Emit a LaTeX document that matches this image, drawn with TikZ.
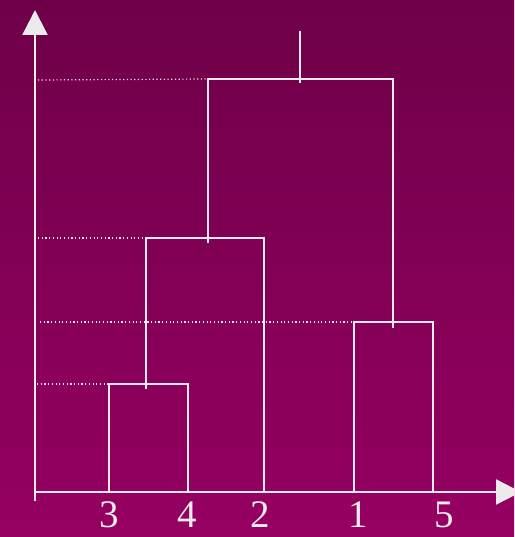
\documentclass[tikz,border=0pt]{standalone}
\usepackage{fontspec}
\setmainfont{Liberation Serif}
\usetikzlibrary{arrows.meta}
\definecolor{bgtop}{RGB}{110,0,72}
\definecolor{bgbot}{RGB}{150,0,98}
\definecolor{ink}{RGB}{235,235,235}
\begin{document}
\begin{tikzpicture}[x=1pt,y=-1pt,
  tree/.style={draw=ink,line width=2pt},
  guide/.style={draw=ink,line width=1.2pt,dash pattern=on 1.2pt off 2.5pt},
  axis/.style={draw=ink,line width=2.4pt,-{Triangle[width=25pt,length=25pt]}},
  lbl/.style={text=ink,font=\fontsize{39}{39}\selectfont,anchor=base,inner sep=0pt}]
\path[clip] (0,0) rectangle (514,537);
\shade[top color=bgtop,bottom color=bgbot] (0,0) rectangle (514,537);
\useasboundingbox (0,0) rectangle (514,537);
% axes
\coordinate (o) at (35,501);
\coordinate (ytip) at (35,10);
\coordinate (xo) at (35,492);
\coordinate (xtip) at (521,492);
\draw[axis] (o) -- (ytip);
\draw[axis] (xo) -- (xtip);
% leaves
\coordinate (l3) at (109,492);
\coordinate (l4) at (188,492);
\coordinate (l2) at (264,492);
\coordinate (l1) at (354,492);
\coordinate (l5) at (433,492);
% merges
\coordinate (m34a) at (109,384);
\coordinate (m34b) at (188,384);
\coordinate (m34s) at (146,389);
\coordinate (m342a) at (146,238);
\coordinate (m342b) at (264,238);
\coordinate (m342s) at (208,243);
\coordinate (m15a) at (354,322);
\coordinate (m15b) at (433,322);
\coordinate (m15s) at (393,328);
\coordinate (topa) at (208,79);
\coordinate (topb) at (393,79);
\coordinate (tops) at (300,83);
\coordinate (root) at (300,31);
\draw[tree] (l3) -- (m34a) -- (m34b) -- (l4);
\draw[tree] (m34s) -- (m342a) -- (m342b) -- (l2);
\draw[tree] (l1) -- (m15a) -- (m15b) -- (l5);
\draw[tree] (m342s) -- (topa) -- (topb) -- (m15s);
\draw[tree] (tops) -- (root);
% guides
\coordinate (g1) at (38,80);
\coordinate (g2) at (38,238);
\coordinate (g3) at (40,322);
\coordinate (g4) at (37,384);
\draw[guide] (g1) -- (topa);
\draw[guide] (g2) -- (m342a);
\draw[guide] (g3) -- (m15a);
\draw[guide] (g4) -- (m34a);
% labels
\node[lbl] (t3) at (109,527) {3};
\node[lbl] (t4) at (187,527) {4};
\node[lbl] (t2) at (260,527) {2};
\node[lbl] (t1) at (358,527) {1};
\node[lbl] (t5) at (444,527) {5};
\end{tikzpicture}
\end{document}
